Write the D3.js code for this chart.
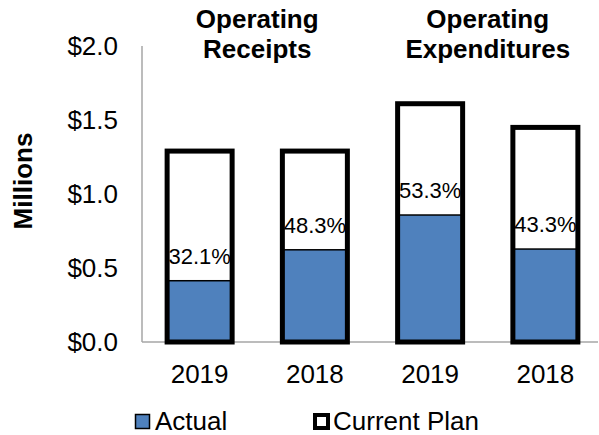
<!DOCTYPE html>
<html>
<head>
<meta charset="utf-8">
<script src="https://cdn.jsdelivr.net/npm/d3@7"></script>
<style>
  body { margin: 0; background: #fff; }
  text { font-family: Arial, "Liberation Sans", sans-serif; fill: #000; }
</style>
</head>
<body>
<div id="chart"></div>
<script>
// data
var categories = ["r2019", "r2018", "e2019", "e2018"];
var yearLabels = ["2019", "2018", "2019", "2018"];
var planValues = [1.29, 1.29, 1.61, 1.45];
var actualValues = [0.414, 0.623, 0.858, 0.628];
var pctLabels = ["32.1%", "48.3%", "53.3%", "43.3%"];
var groupTitles = [["Operating", "Receipts"], ["Operating", "Expenditures"]];
var yTicks = [0, 0.5, 1.0, 1.5, 2.0];

var width = 599, height = 435;
var blue = "#4f81bd";

var svg = d3.select('#chart')
    .append('svg')
    .attr('width', width)
    .attr('height', height);

var x = d3.scaleBand()
    .domain(categories)
    .range([142, 603])
    .paddingInner(0.436)
    .paddingOuter(0.218);

var y = d3.scaleLinear().domain([0, 2]).range([342, 46]);

// axis lines
svg.append('line')
    .attr('x1', 142).attr('x2', 142)
    .attr('y1', y(2)).attr('y2', y(0))
    .attr('stroke', '#a6a6a6').attr('stroke-width', 1.5);
svg.append('line')
    .attr('x1', 142).attr('x2', 598)
    .attr('y1', y(0)).attr('y2', y(0))
    .attr('stroke', '#a6a6a6').attr('stroke-width', 1.5);

// y tick labels
svg.selectAll('.ytick')
    .data(yTicks)
    .enter()
    .append('text')
    .attr('class', 'ytick')
    .attr('x', 118)
    .attr('y', function (d) { return y(d); })
    .attr('dy', '0.35em')
    .style('text-anchor', 'end')
    .style('font-size', '26px')
    .text(function (d) { return '$' + d.toFixed(1); });

// y axis title
svg.append('text')
    .attr('transform', 'translate(32,181) rotate(-90)')
    .style('text-anchor', 'middle')
    .style('font-size', '26px')
    .style('font-weight', 'bold')
    .text('Millions');

var rows = categories.map(function (c, i) {
    return { cat: c, plan: planValues[i], actual: actualValues[i], pct: pctLabels[i], year: yearLabels[i] };
});

// plan bars (white fill)
svg.selectAll('.plan')
    .data(rows)
    .enter()
    .append('rect')
    .attr('class', 'plan')
    .attr('x', function (d) { return x(d.cat); })
    .attr('y', function (d) { return y(d.plan); })
    .attr('width', x.bandwidth())
    .attr('height', function (d) { return y(0) - y(d.plan); })
    .attr('fill', '#fff');

// actual bars
svg.selectAll('.actual')
    .data(rows)
    .enter()
    .append('rect')
    .attr('class', 'actual')
    .attr('x', function (d) { return x(d.cat); })
    .attr('y', function (d) { return y(d.actual); })
    .attr('width', x.bandwidth())
    .attr('height', function (d) { return y(0) - y(d.actual); })
    .attr('fill', blue)
    .attr('stroke', '#000')
    .attr('stroke-width', 1.5);

// plan outline on top
svg.selectAll('.planOutline')
    .data(rows)
    .enter()
    .append('rect')
    .attr('class', 'planOutline')
    .attr('x', function (d) { return x(d.cat); })
    .attr('y', function (d) { return y(d.plan); })
    .attr('width', x.bandwidth())
    .attr('height', function (d) { return y(0) - y(d.plan); })
    .attr('fill', 'none')
    .attr('stroke', '#000')
    .attr('stroke-width', 5);

// percent labels
svg.selectAll('.pct')
    .data(rows)
    .enter()
    .append('text')
    .attr('class', 'pct')
    .attr('x', function (d) { return x(d.cat) + x.bandwidth() / 2; })
    .attr('y', function (d) { return y(d.actual) - 17; })
    .style('text-anchor', 'middle')
    .style('font-size', '22px')
    .text(function (d) { return d.pct; });

// year labels
svg.selectAll('.year')
    .data(rows)
    .enter()
    .append('text')
    .attr('class', 'year')
    .attr('x', function (d) { return x(d.cat) + x.bandwidth() / 2; })
    .attr('y', 383)
    .style('text-anchor', 'middle')
    .style('font-size', '26px')
    .text(function (d) { return d.year; });

// group titles
groupTitles.forEach(function (lines, g) {
    var cx = (x(categories[g * 2]) + x(categories[g * 2 + 1]) + x.bandwidth()) / 2;
    var t = svg.append('text')
        .attr('x', cx)
        .attr('y', 28)
        .style('text-anchor', 'middle')
        .style('font-size', '26px')
        .style('font-weight', 'bold');
    lines.forEach(function (l, i) {
        t.append('tspan').attr('x', cx).attr('dy', i == 0 ? 0 : 30).text(l);
    });
});

// legend
var legend = svg.append('g');
legend.append('rect')
    .attr('x', 135.5).attr('y', 414.5)
    .attr('width', 14).attr('height', 14)
    .attr('fill', blue).attr('stroke', '#000').attr('stroke-width', 1.5);
legend.append('text')
    .attr('x', 155).attr('y', 430)
    .style('font-size', '26px')
    .text('Actual');
legend.append('rect')
    .attr('x', 315).attr('y', 415)
    .attr('width', 13).attr('height', 13)
    .attr('fill', '#fff').attr('stroke', '#000').attr('stroke-width', 4);
legend.append('text')
    .attr('x', 333).attr('y', 430)
    .style('font-size', '26px')
    .text('Current Plan');
</script>
</body>
</html>
